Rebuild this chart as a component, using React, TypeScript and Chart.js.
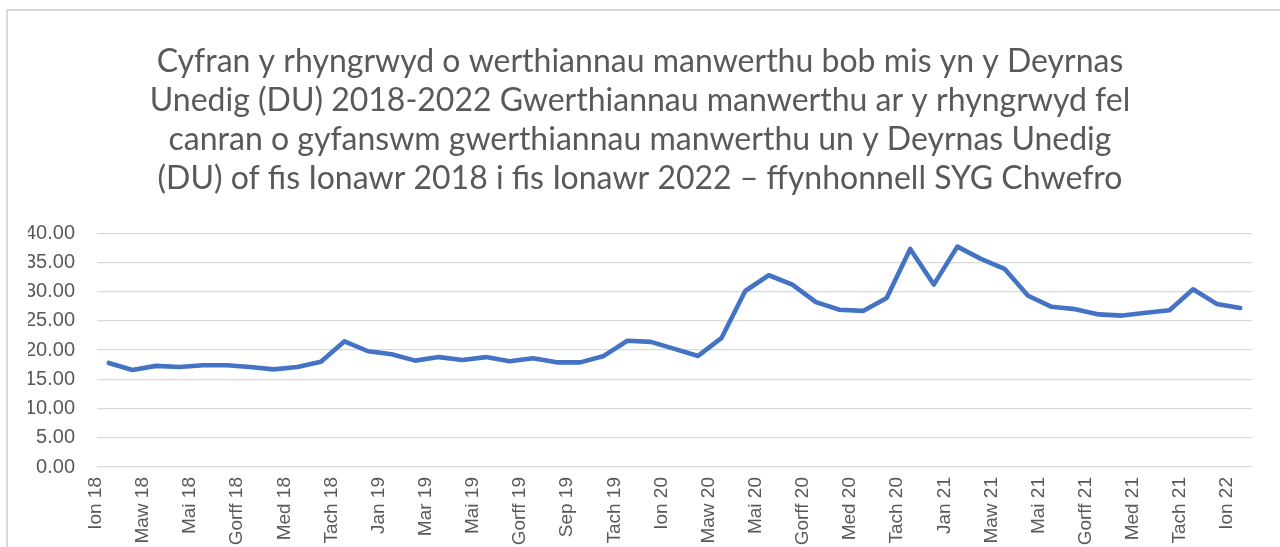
import React, { useEffect, useRef } from "react";
import { Chart, registerables } from "chart.js";

Chart.register(...registerables);

const titleLines = [
  "Cyfran y rhyngrwyd o werthiannau manwerthu bob mis yn y Deyrnas",
  "Unedig (DU) 2018-2022 Gwerthiannau manwerthu ar y rhyngrwyd fel",
  "canran o gyfanswm gwerthiannau manwerthu un y Deyrnas Unedig",
  "(DU) of fis Ionawr 2018 i fis Ionawr 2022 – ffynhonnell SYG Chwefro",
];

// 49 months, Jan 2018 – Jan 2022 (every other one is shown on the axis)
const months = [
  "Ion 18", "Chwe 18", "Maw 18", "Ebr 18", "Mai 18", "Meh 18", "Gorff 18", "Awst 18", "Med 18", "Hyd 18", "Tach 18", "Rhag 18",
  "Jan 19", "Chwe 19", "Mar 19", "Ebr 19", "Mai 19", "Meh 19", "Gorff 19", "Awst 19", "Sep 19", "Hyd 19", "Tach 19", "Rhag 19",
  "Ion 20", "Chwe 20", "Maw 20", "Ebr 20", "Mai 20", "Meh 20", "Gorff 20", "Awst 20", "Med 20", "Hyd 20", "Tach 20", "Rhag 20",
  "Jan 21", "Chwe 21", "Maw 21", "Ebr 21", "Mai 21", "Meh 21", "Gorff 21", "Awst 21", "Med 21", "Hyd 21", "Tach 21", "Rhag 21",
  "Ion 22",
];

const internetShare = [
  17.8, 16.6, 17.3, 17.1, 17.4, 17.4, 17.1, 16.7, 17.1, 18.0, 21.5, 19.8,
  19.3, 18.2, 18.8, 18.3, 18.8, 18.1, 18.6, 17.9, 17.9, 19.0, 21.6, 21.4,
  20.2, 19.0, 22.1, 30.1, 32.8, 31.2, 28.2, 26.9, 26.7, 28.9, 37.3, 31.2,
  37.7, 35.6, 33.9, 29.3, 27.4, 27.0, 26.1, 25.9, 26.4, 26.8, 30.4, 27.9,
  27.2,
];

const yTicks = [0, 5, 10, 15, 20, 25, 30, 35, 40];

export default function App() {
  const ref = useRef<HTMLCanvasElement | null>(null);

  useEffect(() => {
    if (!ref.current) return;
    const chart = new Chart(ref.current, {
      type: "line",
      data: {
        labels: months,
        datasets: [
          {
            data: internetShare,
            borderColor: "#4472C4",
            backgroundColor: "#4472C4",
            borderWidth: 4.6,
            borderJoinStyle: "round",
            borderCapStyle: "round",
            pointRadius: 0,
            tension: 0,
          },
        ],
      },
      options: {
        animation: false,
        responsive: false,
        maintainAspectRatio: false,
        layout: { padding: { left: 28, right: 28, top: 0, bottom: 0 } },
        plugins: {
          legend: { display: false },
          tooltip: { enabled: false },
          title: {
            display: true,
            text: titleLines,
            color: "#595959",
            font: { family: "Lato", size: 32, weight: "normal", lineHeight: 1.22 },
            padding: { top: 42, bottom: 35 },
          },
        },
        scales: {
          x: {
            type: "category",
            offset: true,
            grid: { display: false },
            border: { display: false },
            afterFit: (axis: any) => {
              axis.height = 80;
              axis.paddingLeft = 0;
              axis.paddingRight = 0;
            },
            ticks: {
              autoSkip: false,
              minRotation: 90,
              maxRotation: 90,
              padding: 2,
              labelOffset: -13,
              color: "#595959",
              font: { family: "Liberation Sans", size: 19 },
              callback: (_v: any, i: number) => (i % 2 === 0 ? months[i] : ""),
            },
          },
          y: {
            min: 0,
            max: 40,
            afterBuildTicks: (axis: any) => {
              axis.ticks = yTicks.map((v) => ({ value: v }));
            },
            afterFit: (axis: any) => {
              axis.width = 69;
            },
            grid: { color: "#d9d9d9", lineWidth: 1.3, drawTicks: false },
            border: { display: false },
            ticks: {
              padding: 22,
              color: "#595959",
              font: { family: "Liberation Sans", size: 20 },
              callback: (v: any) => Number(v).toFixed(2),
            },
          },
        },
      },
    });
    return () => chart.destroy();
  }, []);

  return (
    <div style={{ position: "fixed", left: 0, top: 0, width: 1280, height: 547, background: "#fff" }}>
      <div
        style={{
          position: "absolute",
          left: 6,
          top: 9,
          width: 1300,
          height: 600,
          borderLeft: "2px solid #d9d9d9",
          borderTop: "2px solid #d9d9d9",
          boxSizing: "border-box",
        }}
      />
      <canvas ref={ref} width={1280} height={547} style={{ position: "absolute", left: 0, top: 0 }} />
    </div>
  );
}
